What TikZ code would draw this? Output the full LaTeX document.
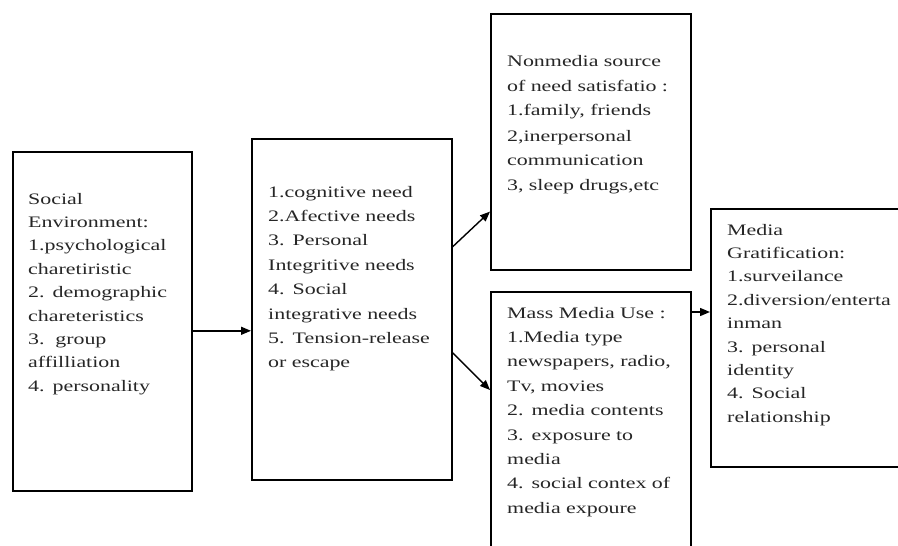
\documentclass[tikz,border=0pt]{standalone}
\usepackage{fontspec}
\setmainfont{Liberation Serif}[FakeStretch=1.37]
\usetikzlibrary{arrows.meta}

\begin{document}
\begin{tikzpicture}[x=1pt,y=-1pt,
  box/.style={draw, line width=1.6pt, rectangle, inner sep=0pt, anchor=north west},
  txt/.style={anchor=base west, inner sep=0pt, text width=190pt, align=left, text=black!85},
  arr/.style={-{Triangle[length=10pt,width=8pt]}, line width=1.4pt}]
\clip (0,0) rectangle (898,546);

% Social environment
\node[box, minimum width=179pt, minimum height=339pt] (social) at (12,151) {};
\node[txt, font=\fontsize{16}{23.4}\selectfont] (socialtxt) at (28,204)
  {Social\\Environment:\\1.psychological\\charetiristic\\2. demographic\\chareteristics\\3.\ \ group\\affilliation\\4. personality};

% Needs
\node[box, minimum width=200pt, minimum height=341pt] (needs) at (251,138) {};
\node[txt, font=\fontsize{16}{24.4}\selectfont] (needstxt) at (268,197)
  {1.cognitive need\\2.Afective needs\\3. Personal\\Integritive needs\\4. Social\\integrative needs\\5. Tension-release\\or escape};

% Nonmedia source
\node[box, minimum width=200pt, minimum height=256pt] (nonmedia) at (490,13) {};
\node[txt, font=\fontsize{16}{25}\selectfont] (nonmediatxt) at (507,66)
  {Nonmedia source\\of need satisfatio :\\1.family, friends\\2,inerpersonal\\communication\\3, sleep drugs,etc};

% Mass media use
\node[box, minimum width=200pt, minimum height=270pt] (massmedia) at (490,291) {};
\node[txt, font=\fontsize{16}{24.4}\selectfont] (massmediatxt) at (507,318)
  {Mass Media Use :\\1.Media type\\newspapers, radio,\\Tv, movies\\2. media contents\\3. exposure to\\media\\4. social contex of\\media expoure};

% Media gratification
\node[box, minimum width=200pt, minimum height=258pt] (gratify) at (710,208) {};
\node[txt, font=\fontsize{16}{23.4}\selectfont] (gratifytxt) at (727,235)
  {Media\\Gratification:\\1.surveilance\\2.diversion/enterta\\inman\\3. personal\\identity\\4. Social\\relationship};

% Arrows
\draw[arr] ([yshift=-9.5pt]social.east) coordinate (s1) -- (s1 -| needs.west);
\draw[arr] ([yshift=62.5pt]needs.east) -- ([yshift=59pt]nonmedia.south west);
\draw[arr] ([yshift=-43.5pt]needs.east) -- ([yshift=-99pt]massmedia.north west);
\draw[arr] ([yshift=-21pt]massmedia.north east) coordinate (m1) -- (m1 -| gratify.west);
\end{tikzpicture}
\end{document}
